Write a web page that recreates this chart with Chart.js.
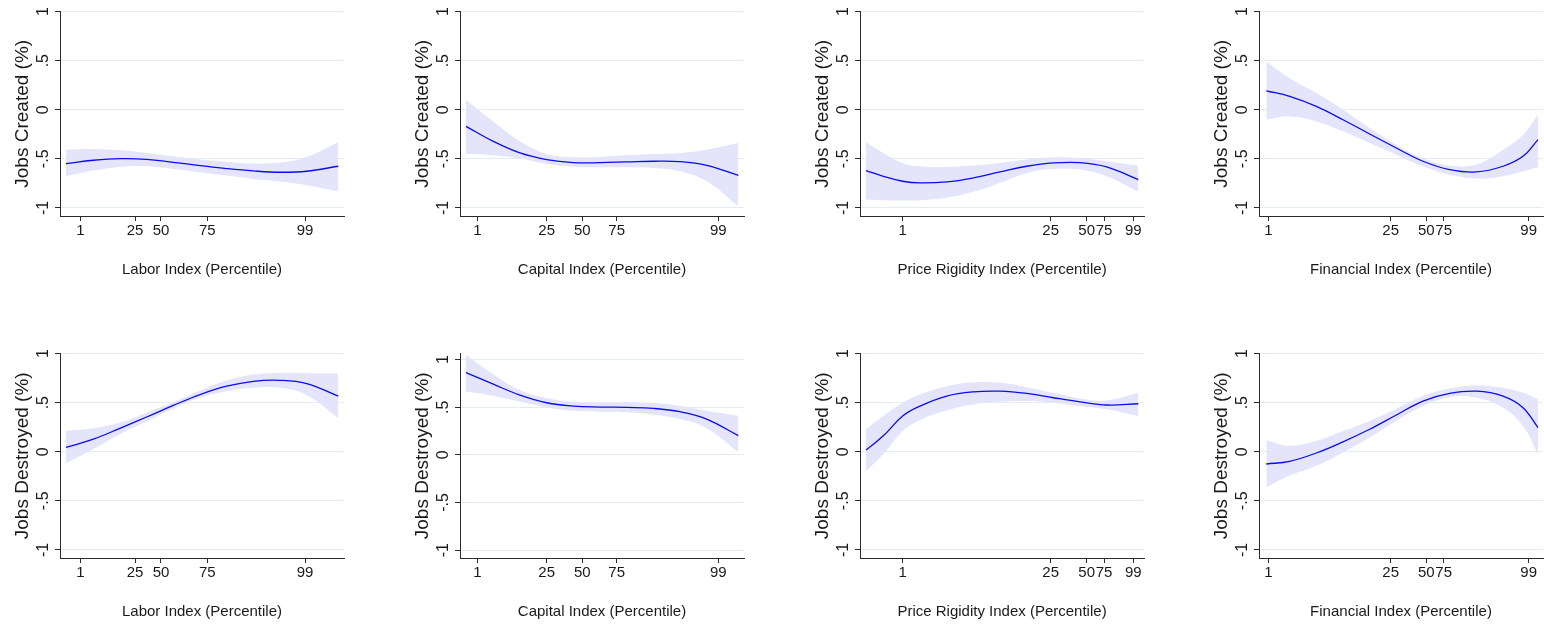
<!DOCTYPE html>
<html>
<head>
<meta charset="utf-8">
<title>Jobs created / destroyed by index percentile</title>
<script src="https://cdn.jsdelivr.net/npm/chart.js@4.4.1/dist/chart.umd.min.js"></script>
<style>
  body { margin: 0; background: #fff; width: 1544px; height: 626px; overflow: hidden; position: relative; }
  canvas { position: absolute; }
</style>
</head>
<body>
<script>
// index value (axis runs 0-100) at each fitted point
const laborX   = [2.11, 11.74, 21.13, 30.52, 39.91, 49.30, 58.69, 68.08, 77.46, 86.85, 98.0];
const capitalX = [2.11, 11.74, 21.13, 30.52, 39.91, 49.30, 58.69, 68.08, 77.46, 86.85, 98.0];
const priceX   = [2.11, 8.22, 15.02, 21.13, 30.52, 39.91, 49.30, 58.69, 68.08, 77.46, 86.85, 98.0];
const financeX = [2.58, 10.80, 20.19, 29.58, 38.97, 48.36, 57.75, 67.14, 76.53, 85.92, 92.96, 98.24];

// index value where each percentile sits
const tickLabels   = ['1', '25', '50', '75', '99'];
const laborTicks   = [7.16, 26.41, 35.56, 51.88, 86.27];
const capitalTicks = [6.10, 30.52, 43.08, 55.16, 90.96];
const priceTicks   = [15.02, 67.14, 79.81, 85.92, 96.24];
const financeTicks = [3.29, 46.36, 58.92, 65.02, 94.95];
const yTicks = [-1, -0.5, 0, 0.5, 1];

// jobs created: fit, upper and lower bound
const laborCreated     = [-0.549, -0.515, -0.498, -0.505, -0.536, -0.569, -0.600, -0.624, -0.637, -0.627, -0.576];
const laborCreatedHi   = [-0.407, -0.400, -0.414, -0.440, -0.475, -0.508, -0.532, -0.549, -0.539, -0.481, -0.329];
const laborCreatedLo   = [-0.678, -0.620, -0.583, -0.576, -0.603, -0.637, -0.671, -0.705, -0.732, -0.769, -0.831];

const capitalCreated   = [-0.169, -0.322, -0.440, -0.508, -0.539, -0.539, -0.532, -0.525, -0.529, -0.566, -0.668];
const capitalCreatedHi = [0.100, -0.119, -0.322, -0.451, -0.485, -0.481, -0.464, -0.451, -0.440, -0.407, -0.339];
const capitalCreatedLo = [-0.451, -0.464, -0.498, -0.553, -0.580, -0.586, -0.586, -0.593, -0.627, -0.729, -0.983];

const priceCreated     = [-0.620, -0.678, -0.729, -0.746, -0.736, -0.695, -0.634, -0.576, -0.542, -0.539, -0.583, -0.712];
const priceCreatedHi   = [-0.332, -0.440, -0.542, -0.576, -0.583, -0.569, -0.542, -0.508, -0.485, -0.492, -0.525, -0.569];
const priceCreatedLo   = [-0.915, -0.922, -0.925, -0.922, -0.898, -0.837, -0.746, -0.644, -0.603, -0.610, -0.678, -0.837];

const financeCreated   = [0.193, 0.136, 0.034, -0.102, -0.247, -0.390, -0.525, -0.610, -0.634, -0.576, -0.475, -0.305];
const financeCreatedHi = [0.490, 0.322, 0.170, 0.000, -0.186, -0.356, -0.492, -0.569, -0.559, -0.407, -0.254, -0.051];
const financeCreatedLo = [-0.102, -0.068, -0.119, -0.220, -0.339, -0.458, -0.576, -0.661, -0.702, -0.678, -0.627, -0.586];

// jobs destroyed
const laborDestroyed     = [0.044, 0.128, 0.239, 0.354, 0.472, 0.583, 0.668, 0.718, 0.728, 0.695, 0.567];
const laborDestroyedHi   = [0.212, 0.239, 0.297, 0.398, 0.506, 0.624, 0.725, 0.786, 0.803, 0.799, 0.796];
const laborDestroyedLo   = [-0.118, 0.027, 0.179, 0.307, 0.438, 0.550, 0.617, 0.651, 0.651, 0.577, 0.341];

const capitalDestroyed   = [0.864, 0.742, 0.627, 0.547, 0.512, 0.502, 0.498, 0.488, 0.453, 0.376, 0.202];
const capitalDestroyedHi = [1.049, 0.847, 0.679, 0.596, 0.557, 0.551, 0.551, 0.544, 0.516, 0.463, 0.411];
const capitalDestroyedLo = [0.666, 0.620, 0.557, 0.498, 0.463, 0.453, 0.446, 0.422, 0.376, 0.279, 0.028];

const priceDestroyed     = [0.017, 0.162, 0.364, 0.465, 0.567, 0.610, 0.617, 0.594, 0.550, 0.509, 0.476, 0.489];
const priceDestroyedHi   = [0.229, 0.364, 0.499, 0.583, 0.668, 0.708, 0.702, 0.658, 0.600, 0.543, 0.523, 0.600];
const priceDestroyedLo   = [-0.199, -0.024, 0.212, 0.320, 0.422, 0.482, 0.509, 0.516, 0.499, 0.465, 0.432, 0.364];

const financeDestroyed   = [-0.125, -0.098, -0.013, 0.101, 0.229, 0.374, 0.516, 0.594, 0.617, 0.567, 0.449, 0.246];
const financeDestroyedHi = [0.118, 0.061, 0.111, 0.212, 0.314, 0.438, 0.567, 0.644, 0.675, 0.651, 0.600, 0.533];
const financeDestroyedLo = [-0.361, -0.243, -0.142, -0.007, 0.145, 0.314, 0.465, 0.556, 0.550, 0.449, 0.263, -0.024];

const lineBlue = '#0c0cee';
const bandColor = 'rgb(228,228,251)';
const gridColor = '#e3edef';
const axisColor = '#2a2a2a';
const textColor = '#1a1a1a';
const sans = "'Liberation Sans', Arial, sans-serif";

const createdTitle = 'Jobs Created (%)';
const destroyedTitle = 'Jobs Destroyed (%)';

const panels = [
  { x: laborX, mid: laborCreated, hi: laborCreatedHi, lo: laborCreatedLo, ticks: laborTicks, xTitle: 'Labor Index (Percentile)', yTitle: createdTitle, left: 0, top: 0 },
  { x: capitalX, mid: capitalCreated, hi: capitalCreatedHi, lo: capitalCreatedLo, ticks: capitalTicks, xTitle: 'Capital Index (Percentile)', yTitle: createdTitle, left: 400, top: 0 },
  { x: priceX, mid: priceCreated, hi: priceCreatedHi, lo: priceCreatedLo, ticks: priceTicks, xTitle: 'Price Rigidity Index (Percentile)', yTitle: createdTitle, left: 800, top: 0 },
  { x: financeX, mid: financeCreated, hi: financeCreatedHi, lo: financeCreatedLo, ticks: financeTicks, xTitle: 'Financial Index (Percentile)', yTitle: createdTitle, left: 1199, top: 0 },
  { x: laborX, mid: laborDestroyed, hi: laborDestroyedHi, lo: laborDestroyedLo, ticks: laborTicks, xTitle: 'Labor Index (Percentile)', yTitle: destroyedTitle, left: 0, top: 342 },
  { x: capitalX, mid: capitalDestroyed, hi: capitalDestroyedHi, lo: capitalDestroyedLo, ticks: capitalTicks, xTitle: 'Capital Index (Percentile)', yTitle: destroyedTitle, left: 400, top: 342, yMax: 1.063 },
  { x: priceX, mid: priceDestroyed, hi: priceDestroyedHi, lo: priceDestroyedLo, ticks: priceTicks, xTitle: 'Price Rigidity Index (Percentile)', yTitle: destroyedTitle, left: 800, top: 342 },
  { x: financeX, mid: financeDestroyed, hi: financeDestroyedHi, lo: financeDestroyedLo, ticks: financeTicks, xTitle: 'Financial Index (Percentile)', yTitle: destroyedTitle, left: 1199, top: 342 }
];

function fmtY(v) {
  if (v === 0) return '0';
  return (v < 0 ? '-' : '') + String(Math.abs(v)).replace(/^0/, '');
}

function pts(xs, ys) {
  return xs.map((x, i) => ({ x: x, y: ys[i] }));
}

function drawPanel(p) {
  const canvas = document.createElement('canvas');
  const w = Math.min(400, 1544 - p.left);
  canvas.width = w;
  canvas.height = 290;
  canvas.style.left = p.left + 'px';
  canvas.style.top = p.top + 'px';
  document.body.appendChild(canvas);

  new Chart(canvas, {
    type: 'line',
    data: {
      datasets: [
        { data: pts(p.x, p.mid), borderColor: lineBlue, borderWidth: 1.3, pointRadius: 0, tension: 0.4, fill: false },
        { data: pts(p.x, p.hi), borderColor: 'rgba(0,0,0,0)', borderWidth: 0, pointRadius: 0, tension: 0.4, fill: '+1', backgroundColor: bandColor },
        { data: pts(p.x, p.lo), borderColor: 'rgba(0,0,0,0)', borderWidth: 0, pointRadius: 0, tension: 0.4, fill: false }
      ]
    },
    options: {
      responsive: false,
      animation: false,
      devicePixelRatio: 1,
      layout: { padding: { left: 0, right: w - 344, top: 10, bottom: 0 } },
      plugins: { legend: { display: false }, tooltip: { enabled: false } },
      scales: {
        x: {
          type: 'linear',
          min: 0,
          max: 100,
          afterBuildTicks: s => { s.ticks = p.ticks.map(v => ({ value: v })); },
          afterFit: s => { s.height = 74; },
          ticks: {
            autoSkip: false, minRotation: 0, maxRotation: 0, padding: 1,
            color: textColor, font: { family: sans, size: 15 },
            callback: (v, i) => tickLabels[i]
          },
          grid: { drawOnChartArea: false, drawTicks: true, tickLength: 5, tickColor: axisColor },
          border: { color: axisColor, width: 1 },
          title: { display: true, text: p.xTitle, color: textColor, font: { family: sans, size: 15 }, padding: { top: 0, bottom: 11 } }
        },
        y: {
          min: -1.083,
          max: p.yMax || 1,
          afterBuildTicks: s => { s.ticks = yTicks.map(v => ({ value: v })); },
          afterFit: s => { s.width = 60; },
          ticks: {
            autoSkip: false, minRotation: 90, maxRotation: 90, crossAlign: 'center', padding: 2,
            color: textColor, font: { family: sans, size: 16 },
            callback: v => fmtY(v)
          },
          grid: { color: gridColor, lineWidth: 1, drawTicks: true, tickLength: 5, tickColor: axisColor },
          border: { color: axisColor, width: 1 },
          title: { display: true, text: p.yTitle, color: textColor, font: { family: sans, size: 19 }, padding: { top: 11, bottom: 0 } }
        }
      }
    }
  });
}

panels.forEach(drawPanel);
</script>
</body>
</html>
